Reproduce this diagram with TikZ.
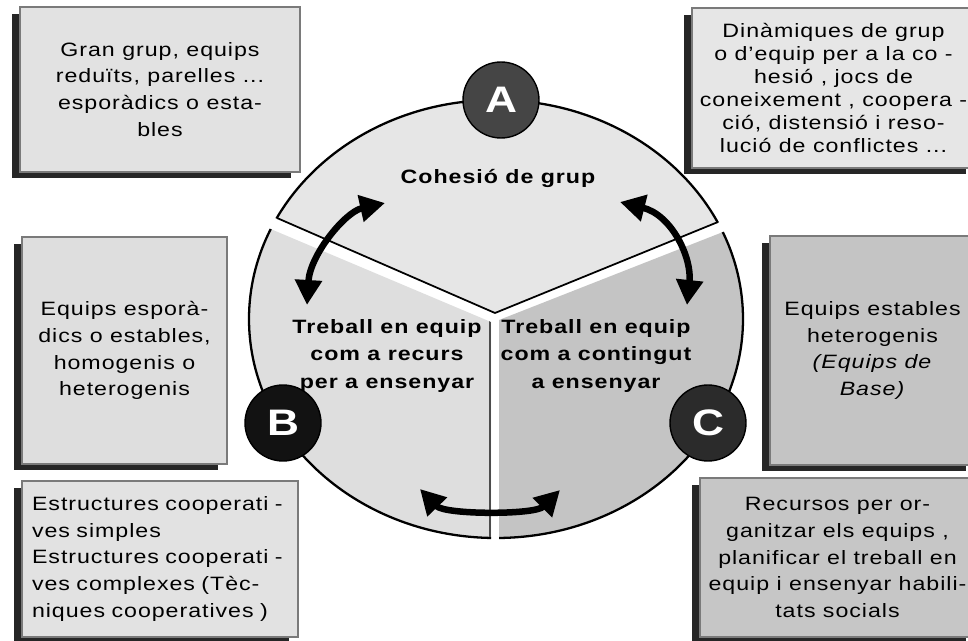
\documentclass[tikz,border=0pt]{standalone}
\usepackage{fontspec}
\setmainfont{Liberation Sans}[FakeStretch=1.2,LetterSpace=5]
\usetikzlibrary{arrows.meta,shadows}

\definecolor{sectA}{HTML}{E6E6E6}
\definecolor{sectB}{HTML}{DEDEDE}
\definecolor{sectC}{HTML}{C4C4C4}
\definecolor{boxlight}{HTML}{E2E2E2}
\definecolor{boxdark}{HTML}{C6C6C6}
\definecolor{rimgray}{HTML}{7A7A7A}

\tikzset{
	infobox/.style={draw=rimgray,line width=0.8pt,fill=boxlight,align=center,inner sep=0pt,
		font=\fontsize{11}{15.3}\selectfont,
		drop shadow={shadow xshift=-0.17cm,shadow yshift=-0.13cm,fill=black!85,opacity=1}},
	letterdisc/.style={circle,draw=black,line width=0.8pt,minimum size=1.52cm,text=white,
		font=\fontsize{21}{21}\selectfont\bfseries},
	sectlabel/.style={align=center,font=\fontsize{11}{15.6}\selectfont\bfseries},
	twoway/.style={{Triangle[length=0.5cm,width=0.52cm]}-{Triangle[length=0.5cm,width=0.52cm]},line width=0.13cm},
	rim/.style={line width=1.3pt}
}

\begin{document}
\begin{tikzpicture}[x=0.02cm,y=-0.02cm]
	\clip (0,0) rectangle (968,641);

	\begin{scope}
		\clip (65,127)--(495,313)--(939,133)--(990,133)--(990,-20)--(-20,-20)--(-20,127)--cycle;
		\filldraw[fill=sectA,rim] (496,319) ellipse [x radius=247,y radius=219];
	\end{scope}
	\begin{scope}
		\clip (491,322)--(55,138)--(-20,138)--(-20,660)--(491,660)--cycle;
		\filldraw[fill=sectB,rim] (496,319) ellipse [x radius=247,y radius=219];
		\draw[line width=0.9pt,black!70] (490,321)--(490,537);
	\end{scope}
	\begin{scope}
		\clip (499,320)--(947,144)--(990,144)--(990,660)--(499,660)--cycle;
		\filldraw[fill=sectC,rim] (496,319) ellipse [x radius=247,y radius=219];
	\end{scope}
	\draw[line width=1pt,line join=round] (277,218)--(495,313)--(718,222);

	\node[sectlabel] (cohesio) at (498,178) {Cohesió de grup};
	\node[sectlabel] (recurs) at (387,356) {Treball en equip\\com a recurs\\per a ensenyar};
	\node[sectlabel] (contingut) at (596,356) {Treball en equip\\com a contingut\\a ensenyar};

	\coordinate (ab1) at (307,305);
	\coordinate (ab2) at (385,203);
	\coordinate (ac1) at (620,202);
	\coordinate (ac2) at (687,305);
	\coordinate (bc1) at (420,489);
	\coordinate (bc2) at (560,490);
	\draw[twoway] (ab1) .. controls (310,255) and (345,212) .. (ab2);
	\draw[twoway] (ac1) .. controls (672,215) and (692,258) .. (ac2);
	\draw[twoway] (bc1) .. controls (445,515) and (535,515) .. (bc2);

	\node[letterdisc,fill=black!73] (discA) at (501,100) {A};
	\node[letterdisc,fill=black!93] (discB) at (283,423) {B};
	\node[letterdisc,fill=black!83] (discC) at (708,423) {C};

	\node[infobox,minimum width=5.6cm,minimum height=3.3cm] (gran) at (160,89.5)
		{Gran grup, equips\\reduïts, parelles ...\\esporàdics o esta-\\bles};
	\node[infobox,fill=sectA,minimum width=5.66cm,minimum height=3.2cm,
		font=\fontsize{11}{13}\selectfont] (dinamiques) at (833.5,88)
		{Dinàmiques de grup\\o d'equip per a la co -\\hesió , jocs de\\coneixement , coopera -\\ció, distensió i reso-\\lució de conflictes ...};
	\node[infobox,fill=sectB,minimum width=4.1cm,minimum height=4.54cm] (esporadics) at (124.5,350.5)
		{Equips esporà-\\dics o estables,\\homogenis o\\heterogenis};
	\node[infobox,fill=sectC,minimum width=4.1cm,minimum height=4.58cm] (estables) at (872.5,350.5)
		{Equips estables\\heterogenis\\\textit{(Equips de}\\\textit{Base)}};
	\node[infobox,align=left,inner xsep=0.2cm,text width=5.12cm,minimum height=3.12cm] (estructures) at (160,559)
		{Estructures cooperati -\\ves simples\\Estructures cooperati -\\ves complexes (Tèc-\\niques cooperatives )};
	\node[infobox,fill=boxdark,minimum width=5.5cm,minimum height=3.18cm] (recursos) at (837.5,557.5)
		{Recursos per or-\\ganitzar els equips ,\\planificar el treball en\\equip i ensenyar habili-\\tats socials};
\end{tikzpicture}
\end{document}
